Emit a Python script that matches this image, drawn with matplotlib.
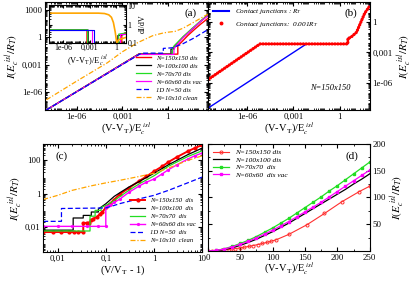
import numpy as np
import matplotlib
matplotlib.use("Agg")
import matplotlib.pyplot as plt
from matplotlib.lines import Line2D
from matplotlib.ticker import LogLocator, NullFormatter, MultipleLocator

plt.rcParams['font.family'] = ['Liberation Serif', 'DejaVu Serif']
plt.rcParams['mathtext.fontset'] = 'stix'
plt.rcParams['xtick.direction'] = 'in'
plt.rcParams['ytick.direction'] = 'in'
plt.rcParams['xtick.major.pad'] = 2
plt.rcParams['ytick.major.pad'] = 2

# ---------------- panel (a) ----------------
a_red_x = [1e-8, 1.2e-2, 4.5, 4.5, 8, 20, 60, 150, 430]
a_red_y = [1e-8, 1.4e-2, 1.4e-2, 0.12, 0.3, 1.5, 8, 30, 120]
a_black_x = [1e-8, 1.2e-2, 1.6, 1.6, 2.5, 2.5, 4, 10, 40, 150, 430]
a_black_y = [1e-8, 1.4e-2, 1.4e-2, 0.05, 0.05, 0.1, 0.2, 1, 8, 60, 300]
a_green_x = [1e-8, 1.2e-2, 2.0, 2.0, 3, 10, 40, 150, 430]
a_green_y = [1e-8, 1.3e-2, 1.3e-2, 0.06, 0.15, 1.2, 10, 70, 260]
a_mag_x = [1e-8, 1.2e-2, 2.5, 2.5, 3.5, 10, 40, 150, 430]
a_mag_y = [1e-8, 1.3e-2, 1.3e-2, 0.05, 0.12, 0.9, 8, 60, 230]
a_blue_x = [1e-8, 1.8e-2, 0.5, 0.5, 2, 10, 50, 430]
a_blue_y = [1e-8, 1.8e-2, 1.8e-2, 0.06, 0.07, 0.2, 0.8, 7]
a_orange_x = [1e-8, 1e-6, 1e-4, 1e-3, 1e-2, 0.1, 0.5, 1, 3, 10, 50, 150, 430]
a_orange_y = [1.3e-7, 1.5e-5, 1.5e-3, 2.5e-2, 0.25, 1.5, 3, 3.6, 4.5, 10, 45, 130, 350]
a_labels = ['N=150x150 dis', 'N=100x100 dis', 'N=70x70 dis',
            'N=60x60 dis vac', '1D N=50 dis', 'N=10x10 clean']

# inset of (a): dI/dV
in_red_x = [2e-8, 5e-4, 5e-4, 4.5, 4.5, 14]
in_red_y = [0.5, 0.5, 0.01, 0.01, 0.3, 0.35]
in_black_x = [2e-8, 7e-4, 7e-4, 1.6, 1.6, 14]
in_black_y = [0.5, 0.5, 0.01, 0.01, 0.25, 0.3]
in_green_x = [2e-8, 6e-4, 6e-4, 2.0, 2.0, 14]
in_green_y = [0.52, 0.52, 0.01, 0.01, 0.3, 0.35]
in_mag_x = [2e-8, 1.8e-3, 1.8e-3, 2.5, 2.5, 14]
in_mag_y = [0.48, 0.48, 0.01, 0.01, 0.3, 0.3]
in_blue_x = [2e-8, 3e-3, 3e-3, 14]
in_blue_y = [0.5, 0.5, 0.01, 0.01]
in_orange_x = [2e-8, 1e-2, 0.05, 0.15, 0.3, 0.5, 0.8, 1.2, 2, 14]
in_orange_y = [4.2, 4.2, 4.0, 3.4, 2.5, 1.3, 0.4, 0.1, 0.15, 0.2]

# ---------------- panel (b) ----------------
b_blue_x = [2e-9, 7e-3, 3.3, 3.3, 5, 12, 41, 86]
b_blue_y = [2e-9, 7e-3, 7e-3, 0.025, 0.03, 0.1, 8, 40]
b_red_x = [3e-9, 7e-6, 3.3, 3.3, 5, 12, 41, 86]
b_red_y = [2e-6, 7e-3, 7e-3, 0.025, 0.03, 0.1, 8, 40]

# ---------------- panel (c) ----------------
c_red_x = [0.005, 0.008, 0.012, 0.017, 0.022, 0.027, 0.034, 0.034, 0.04, 0.045, 0.05, 0.055,
           0.065, 0.075, 0.085, 0.1, 0.12, 0.15, 0.2, 0.3, 0.5, 0.7, 1, 1.5, 2, 3, 5, 7, 10]
c_red_y = [0.005, 0.005, 0.005, 0.005, 0.005, 0.005, 0.005, 0.017, 0.018, 0.018, 0.025, 0.032,
           0.04, 0.06, 0.08, 0.15, 0.25, 0.45, 1.0, 2.2, 6, 11, 22, 45, 80, 160, 350, 550, 850]
c_black_x = [0.005, 0.021, 0.021, 0.034, 0.034, 0.05, 0.05, 0.07, 0.07, 0.1, 0.15, 0.2, 0.3,
             0.5, 1, 2, 5, 10]
c_black_y = [0.0065, 0.0065, 0.035, 0.035, 0.05, 0.05, 0.08, 0.08, 0.12, 0.25, 0.7, 1.2, 2.5,
             5.5, 17, 55, 220, 550]
c_green_x = [0.005, 0.047, 0.047, 0.06, 0.06, 0.08, 0.08, 0.1, 0.13, 0.2, 0.3, 0.5, 1, 2, 5, 10]
c_green_y = [0.0058, 0.0058, 0.045, 0.045, 0.1, 0.1, 0.15, 0.2, 0.3, 0.7, 1.6, 4, 12, 45, 170, 380]
c_mag_x = [0.005, 0.01, 0.02, 0.04, 0.07, 0.1, 0.1, 0.12, 0.15, 0.2, 0.3, 0.5, 0.7, 1, 1.5, 2,
           3, 5, 7, 10]
c_mag_y = [0.011, 0.011, 0.011, 0.011, 0.011, 0.011, 0.17, 0.2, 0.3, 0.5, 1.2, 3, 5, 7.6, 16,
           28, 55, 120, 190, 280]
c_blue_x = [0.005, 0.012, 0.012, 0.1, 0.15, 0.2, 0.3, 0.5, 1, 2, 5, 10]
c_blue_y = [0.022, 0.022, 0.13, 0.14, 0.2, 0.26, 0.35, 0.5, 0.8, 1.6, 4.5, 10]
c_orange_x = [0.005, 0.01, 0.02, 0.05, 0.1, 0.2, 0.5, 1, 2, 5, 10]
c_orange_y = [0.45, 0.8, 1.6, 3.0, 4.5, 6.5, 11, 17, 35, 100, 190]
c_labels = ['N=150x150  dis', 'N=100x100  dis', 'N=70x70  dis',
            'N=60x60 dis vac', '1D N=50  dis', 'N=10x10  clean']

# ---------------- panel (d) ----------------
d_x = [0, 12.5, 25, 37.5, 50, 62.5, 75, 87.5, 100, 112.5, 125, 137.5, 150, 162.5, 175,
       187.5, 200, 212.5, 225, 237.5, 250]
d_green = [0, 1, 4, 8.5, 14, 20, 27, 35, 43, 52, 61, 71, 81, 91, 101, 112, 122, 133, 144, 155, 166]
d_mag = [0, 1, 3.5, 7.5, 12.5, 18, 24.5, 31.5, 39, 47, 55, 64, 73, 82, 91, 101, 111, 121, 131,
         141, 151]
d_black = [0, 0.5, 2.5, 6, 10.5, 16, 22, 29, 36, 44, 52, 61, 70, 79, 88, 97, 106, 115, 125,
           134, 144]
d_red_x = [0, 7, 14, 21, 28, 35, 42, 49, 56, 63, 70, 77, 84, 91, 98, 105, 125, 153, 180, 207,
           234, 250]
d_red_y = [0, 0.2, 0.7, 1.3, 2.2, 3.2, 4.3, 5.6, 7, 8.5, 10.2, 12, 14, 16, 18.3, 20.7, 31, 49,
           70, 92, 111, 121]
d_labels = ['N=150x150 dis', 'N=100x100 dis', 'N=70x70  dis', 'N=60x60  dis vac']

green = '#22dd22'
orange = '#ffa500'
ylab = r'$I(E_c^{\ isl}/R_T)$'
xlab = r'(V-V$_{\rm T}$)/E$_c^{\ isl}$'
tfs = 6.3
lfs = 7.5
legfs = 4.8

fig = plt.figure(figsize=(4.15, 2.82), dpi=100)


def logticks(ax, axis):
    loc = LogLocator(base=10, subs=np.arange(2, 10), numticks=200)
    if axis == 'x':
        ax.xaxis.set_minor_locator(loc)
        ax.xaxis.set_minor_formatter(NullFormatter())
    else:
        ax.yaxis.set_minor_locator(loc)
        ax.yaxis.set_minor_formatter(NullFormatter())


# (a)
ax = fig.add_axes([0.108, 0.610, 0.393, 0.383])
ax.plot(a_red_x, a_red_y, color='red', lw=1.0)
ax.plot(a_black_x, a_black_y, color='black', lw=0.9)
ax.plot(a_green_x, a_green_y, color=green, lw=0.9)
ax.plot(a_mag_x, a_mag_y, color='magenta', lw=0.9)
ax.plot(a_blue_x, a_blue_y, color='blue', lw=0.9, ls=(0, (4, 2)))
ax.plot(a_orange_x, a_orange_y, color=orange, lw=0.9, ls=(0, (4, 1.5, 1, 1.5)))
ax.set_xscale('log')
ax.set_yscale('log')
ax.set_xlim(8e-9, 430)
ax.set_ylim(1e-8, 7.7e3)
ax.set_xticks([1e-6, 1e-3, 1], ['1e-06', '0,001', '1'])
ax.set_yticks([1e-6, 1e-3, 1, 1000], ['1e-06', '0,001', '1', '1000'])
logticks(ax, 'x')
logticks(ax, 'y')
ax.tick_params(which='both', top=True, right=True, labelsize=tfs, length=3)
ax.tick_params(which='minor', length=1.5)
ax.set_xlabel(xlab, fontsize=lfs, labelpad=0)
ax.set_ylabel(ylab, fontsize=lfs + 0.5, labelpad=0)
ax.legend(a_labels, loc='lower right', fontsize=legfs, frameon=False, handlelength=2.2,
          labelspacing=0.35, prop={'style': 'italic', 'size': legfs}, bbox_to_anchor=(1.0, 0.03))
ax.text(0.93, 0.94, '(a)', transform=ax.transAxes, fontsize=8, ha='right', va='top')

# inset of (a)
ins = fig.add_axes([0.118, 0.848, 0.186, 0.135])
ins.plot(in_red_x, in_red_y, color='red', lw=0.9)
ins.plot(in_black_x, in_black_y, color='black', lw=0.8)
ins.plot(in_green_x, in_green_y, color=green, lw=0.8)
ins.plot(in_mag_x, in_mag_y, color='magenta', lw=0.8)
ins.plot(in_blue_x, in_blue_y, color='blue', lw=0.8)
ins.plot(in_orange_x, in_orange_y, color=orange, lw=1.2)
ins.set_xscale('log')
ins.set_yscale('log')
ins.set_xlim(2.5e-8, 14)
ins.set_ylim(0.1, 12)
ins.set_xticks([1e-6, 1e-3, 1], ['1e-06', '0,001', '1'])
ins.set_yticks([0.1, 1, 10], ['0,1', '1', '10'])
logticks(ins, 'x')
logticks(ins, 'y')
ins.yaxis.tick_right()
ins.yaxis.set_label_position('right')
ins.tick_params(which='both', top=True, left=True, labelsize=5.8, length=2.5, pad=1)
ins.tick_params(which='minor', length=1.3)
ins.set_ylabel('dI/dV', fontsize=5.8, labelpad=1)
ins.set_xlabel(xlab, fontsize=6, labelpad=1)

# (b)
bx = fig.add_axes([0.501, 0.610, 0.390, 0.383])
bx.plot(b_blue_x, b_blue_y, color='blue', lw=1.0)
bx.plot(b_red_x, b_red_y, color='red', lw=2.3, ls=(0, (0.1, 0.8)), dash_capstyle='round')
bx.set_xscale('log')
bx.set_yscale('log')
bx.set_xlim(3e-9, 86)
bx.set_ylim(2e-9, 100)
bx.set_xticks([1e-6, 1e-3, 1], ['1e-06', '0,001', '1'])
bx.set_yticks([1e-6, 1e-3, 1], ['1e-06', '0,001', '1'])
logticks(bx, 'x')
logticks(bx, 'y')
bx.yaxis.tick_right()
bx.yaxis.set_label_position('right')
bx.tick_params(which='both', top=True, left=True, labelsize=tfs, length=3)
bx.tick_params(which='minor', length=1.5)
bx.set_xlabel(xlab, fontsize=lfs, labelpad=0)
bx.set_ylabel(ylab, fontsize=lfs + 0.5, labelpad=2)
bh = [Line2D([], [], color='blue', lw=1.5),
      Line2D([], [], color='red', marker='o', ms=1.8, ls='')]
bx.legend(bh, [r'Contact junctions : $R_T$', r'Contact junctions:  0.001$R_T$'],
          loc='upper left', frameon=False, handlelength=2.2, labelspacing=0.5,
          prop={'style': 'italic', 'size': 5.2}, borderaxespad=0.3)
bx.text(0.92, 0.94, '(b)', transform=bx.transAxes, fontsize=8, ha='right', va='top')
bx.text(0.88, 0.2, 'N=150x150', transform=bx.transAxes, fontsize=6, style='italic',
        ha='right', va='center')

# (c)
cx = fig.add_axes([0.104, 0.105, 0.383, 0.385])
cx.plot(c_red_x, c_red_y, color='red', lw=1.4, marker='o', ms=2)
cx.plot(c_black_x, c_black_y, color='black', lw=0.9)
cx.plot(c_green_x, c_green_y, color=green, lw=0.9)
cx.plot(c_mag_x, c_mag_y, color='magenta', lw=1.0, marker='o', ms=1.3)
cx.plot(c_blue_x, c_blue_y, color='blue', lw=0.9, ls=(0, (4, 2)))
cx.plot(c_orange_x, c_orange_y, color=orange, lw=0.9, ls=(0, (4, 1.5, 1, 1.5)))
cx.set_xscale('log')
cx.set_yscale('log')
cx.set_xlim(0.005, 10)
cx.set_ylim(3e-4, 1000)
cx.set_xticks([0.01, 0.1, 1, 10], ['0,01', '0,1', '1', '10'])
cx.set_yticks([0.01, 1, 100], ['0,01', '1', '100'])
logticks(cx, 'x')
logticks(cx, 'y')
cx.tick_params(which='both', top=True, right=True, labelsize=tfs, length=3)
cx.tick_params(which='minor', length=1.5)
cx.set_xlabel(r'(V/V$_{\rm T}$ - 1)', fontsize=lfs, labelpad=0)
cx.set_ylabel(ylab, fontsize=lfs + 0.5, labelpad=0)
cx.legend(c_labels, loc='lower right', frameon=False, handlelength=2.2, labelspacing=0.35,
          prop={'style': 'italic', 'size': legfs}, bbox_to_anchor=(1.0, 0.03))
cx.text(0.08, 0.93, '(c)', transform=cx.transAxes, fontsize=8, ha='left', va='top')

# (d)
dx = fig.add_axes([0.501, 0.11, 0.390, 0.38])
dx.plot(d_red_x, d_red_y, color='#ff3030', lw=0.8, marker='o', ms=2.2, mfc='none', mew=0.7)
dx.plot(d_x, d_black, color='black', lw=0.9)
dx.plot(d_x, d_green, color=green, lw=0.9, marker='s', ms=2)
dx.plot(d_x, d_mag, color='magenta', lw=0.9, marker='s', ms=1.8)
dx.set_xlim(0, 250)
dx.set_ylim(0, 200)
dx.set_xticks([0, 50, 100, 150, 200, 250])
dx.set_yticks([50, 100, 150, 200])
dx.xaxis.set_minor_locator(MultipleLocator(25))
dx.yaxis.set_minor_locator(MultipleLocator(25))
dx.yaxis.tick_right()
dx.yaxis.set_label_position('right')
dx.tick_params(which='both', top=True, left=True, labelsize=tfs, length=3)
dx.tick_params(which='minor', length=1.5)
dx.set_xlabel(xlab, fontsize=lfs, labelpad=-1)
dx.set_ylabel(ylab, fontsize=lfs + 0.5, labelpad=2)
dx.legend(d_labels, loc='upper left', frameon=False, handlelength=2.2, labelspacing=0.2,
          prop={'style': 'italic', 'size': 5.3}, borderaxespad=0.3)
dx.text(0.93, 0.93, '(d)', transform=dx.transAxes, fontsize=8, ha='right', va='top')

fig.savefig('out.png', dpi=100)
